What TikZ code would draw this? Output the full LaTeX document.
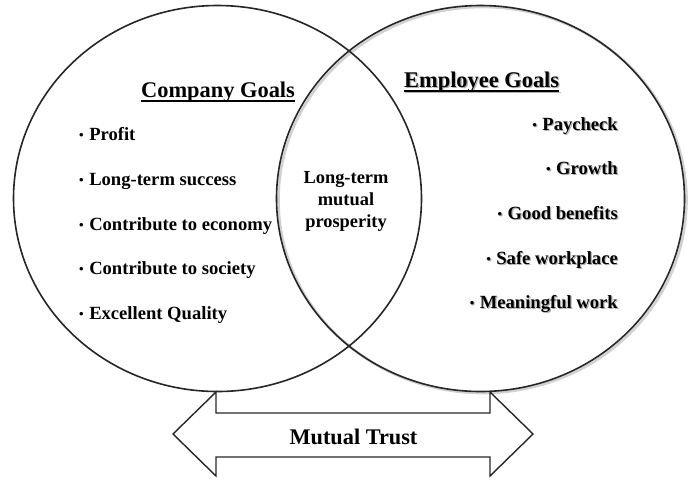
\documentclass[tikz,border=0pt]{standalone}
\usepackage{fontspec}
\setmainfont{Liberation Serif}
\usetikzlibrary{shapes.geometric}
\newcommand{\bul}{{\fontsize{13}{13}\selectfont\raisebox{0.8pt}{•}}\hspace{5.5pt}}
\begin{document}
\begin{tikzpicture}[x=1pt,y=-1pt,
  venn/.style={ellipse, draw=black!85, line width=1.6pt, minimum width=408pt, minimum height=386pt, inner sep=0pt},
  vennshadow/.style={ellipse, draw=black!18, line width=2.6pt, minimum width=408pt, minimum height=386pt, inner sep=0pt},
  headtxt/.style={font=\bfseries\fontsize{22.4}{26}\selectfont, inner sep=0pt, anchor=base west},
  itemtxt/.style={font=\bfseries\fontsize{18.6}{22}\selectfont, inner sep=0pt},
  midtxt/.style={font=\bfseries\fontsize{18.4}{22}\selectfont, inner sep=0pt},
  shadowtxt/.style={text=black!30},
  arrowline/.style={draw=black!85, line width=1.4pt, line join=miter},
  uline/.style={line width=1.4pt, black}
]
\useasboundingbox (0,0) rectangle (699,480);

% circles
\node[vennshadow] (rcs) at (482.5,200) {};
\node[venn] (lc) at (217.5,198.5) {};
\node[venn] (rc) at (480.5,198.5) {};

% headings
\node[headtxt] (cg) at (141,97) {Company Goals};
\draw[uline] ([yshift=-4pt]cg.base west) -- ([yshift=-4pt]cg.base east);
\node[headtxt, shadowtxt] (egs) at (405.3,88.3) {Employee Goals};
\draw[uline, black!30] ([yshift=-4pt]egs.base west) -- ([yshift=-4pt]egs.base east);
\node[headtxt] (eg) at (404,87) {Employee Goals};
\draw[uline] ([yshift=-4pt]eg.base west) -- ([yshift=-4pt]eg.base east);

% company items
\node[itemtxt, anchor=base west] (c1) at (79,140) {\bul Profit};
\node[itemtxt, anchor=base west] (c2) at (79,185) {\bul Long-term success};
\node[itemtxt, anchor=base west] (c3) at (79,230) {\bul Contribute to economy};
\node[itemtxt, anchor=base west] (c4) at (79,274.5) {\bul Contribute to society};
\node[itemtxt, anchor=base west] (c5) at (79,319) {\bul Excellent Quality};

% employee items (shadow)
\node[itemtxt, shadowtxt, anchor=base east] (e1s) at (619.2,131.2) {\bul Paycheck};
\node[itemtxt, shadowtxt, anchor=base east] (e2s) at (619.2,175.2) {\bul Growth};
\node[itemtxt, shadowtxt, anchor=base east] (e3s) at (619.2,220.2) {\bul Good benefits};
\node[itemtxt, shadowtxt, anchor=base east] (e4s) at (619.2,265.2) {\bul Safe workplace};
\node[itemtxt, shadowtxt, anchor=base east] (e5s) at (619.2,309.2) {\bul Meaningful work};
% employee items
\node[itemtxt, anchor=base east] (e1) at (618,130) {\bul Paycheck};
\node[itemtxt, anchor=base east] (e2) at (618,174) {\bul Growth};
\node[itemtxt, anchor=base east] (e3) at (618,219) {\bul Good benefits};
\node[itemtxt, anchor=base east] (e4) at (618,264) {\bul Safe workplace};
\node[itemtxt, anchor=base east] (e5) at (618,308) {\bul Meaningful work};

% overlap text
\node[midtxt, align=center] (mp) at (346,201) {Long-term\\mutual\\prosperity};

% double arrow
\draw[arrowline] (173,434) -- (216,392) -- (216,413) -- (490,413) -- (490,392)
  -- (533,434) -- (490,476) -- (490,457) -- (216,457) -- (216,476) -- cycle;
\node[font=\bfseries\fontsize{22.3}{26}\selectfont, inner sep=0pt, anchor=base] (mt) at (353.5,444) {Mutual Trust};
\end{tikzpicture}
\end{document}
